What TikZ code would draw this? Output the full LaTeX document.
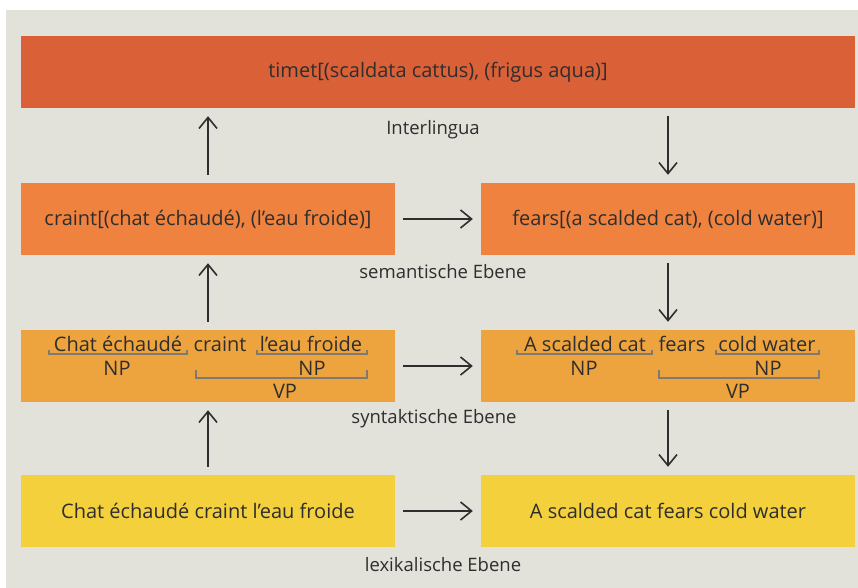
\documentclass[tikz,border=0pt]{standalone}
\usepackage{fontspec}
\setmainfont{Open Sans}
\usepackage{xcolor}
\usepackage{tikz}
\usetikzlibrary{positioning,arrows.meta}

\definecolor{panelgray}{HTML}{E2E1DA}
\definecolor{interred}{HTML}{DA6038}
\definecolor{semorange}{HTML}{EF823F}
\definecolor{synorange}{HTML}{EEA43E}
\definecolor{lexyellow}{HTML}{F5D03D}
\definecolor{inkgray}{HTML}{2E2E2E}
\definecolor{markgray}{HTML}{7E7A72}

\tikzset{
  level/.style={rectangle, inner sep=0pt, minimum height=72pt, text=inkgray,
    font=\fontsize{20}{24}\selectfont},
  word/.style={inner sep=0pt, text=inkgray, font=\fontsize{20}{24}\selectfont},
  levelname/.style={inner sep=0pt, text=inkgray, font=\fontsize{18.5}{22}\selectfont},
  flow/.style={draw=inkgray, line width=1.6pt, -{Straight Barb[length=11pt,width=18pt,line width=1.6pt]},
    shorten <=8pt, shorten >=8pt},
  markline/.style={draw=markgray, line width=1.2pt}
}

% bracket under a phrase: x1, x2, y, tick height
\newcommand\phrasemark[4]{\draw[markline] (#1,#3-#4) -- (#1,#3) -- (#2,#3) -- (#2,#3-#4);}

\begin{document}
\begin{tikzpicture}[x=1pt,y=-1pt]
	\useasboundingbox (0,0) rectangle (858,588);
	\fill[panelgray] (6,10) rectangle (858,588);

	% levels
	\node[level, fill=interred, minimum width=834pt] (inter) at (438,72) {timet[(scaldata cattus), (frigus aqua)]};
	\node[level, fill=semorange, minimum width=374pt] (semfr) at (208,219) {craint[(chat échaudé), (l’eau froide)]};
	\node[level, fill=semorange, minimum width=374pt] (semen) at (668,219) {fears[(a scalded cat), (cold water)]};
	\node[level, fill=synorange, minimum width=374pt] (synfr) at (208,366) {};
	\node[level, fill=synorange, minimum width=374pt] (synen) at (668,366) {};
	\node[level, fill=lexyellow, minimum width=374pt] (lexfr) at (208,511) {Chat échaudé craint l’eau froide};
	\node[level, fill=lexyellow, minimum width=374pt] (lexen) at (668,511) {A scalded cat fears cold water};

	% level names
	\node[levelname] (nameinter) at (433,130) {Interlingua};
	\node[levelname] (namesem) at (443,272) {semantische Ebene};
	\node[levelname] (namesyn) at (434,419) {syntaktische Ebene};
	\node[levelname] (namelex) at (443,565) {lexikalische Ebene};

	% french parse
	\node[word] (frsubj) at (118,344) {Chat échaudé};
	\node[word] (frverb) at (220,344) {craint};
	\node[word] (frobj) at (311,344) {l’eau froide};
	\node[word] (frnp1) at (117,368) {NP};
	\node[word] (frnp2) at (312,368) {NP};
	\node[word] (frvp) at (285,391) {VP};
	\phrasemark{49}{187}{354}{4}
	\phrasemark{257}{367}{354}{4}
	\phrasemark{196}{367}{378}{8}

	% english parse
	\node[word] (ensubj) at (585,344) {A scalded cat};
	\node[word] (enverb) at (682,344) {fears};
	\node[word] (enobj) at (767,344) {cold water};
	\node[word] (ennp1) at (584,368) {NP};
	\node[word] (ennp2) at (768,368) {NP};
	\node[word] (envp) at (738,391) {VP};
	\phrasemark{517}{652}{354}{4}
	\phrasemark{716}{819}{354}{4}
	\phrasemark{659}{819}{378}{8}

	% analysis up the left side
	\draw[flow] (lexfr) -- (synfr);
	\draw[flow] (synfr) -- (semfr);
	\draw[flow] (semfr.north) -- (semfr.north |- inter.south);
	% transfer across
	\draw[flow] (lexfr) -- (lexen);
	\draw[flow] (synfr) -- (synen);
	\draw[flow] (semfr) -- (semen);
	% generation down the right side
	\draw[flow] (semen.north |- inter.south) -- (semen.north);
	\draw[flow] (semen) -- (synen);
	\draw[flow] (synen) -- (lexen);
\end{tikzpicture}
\end{document}
